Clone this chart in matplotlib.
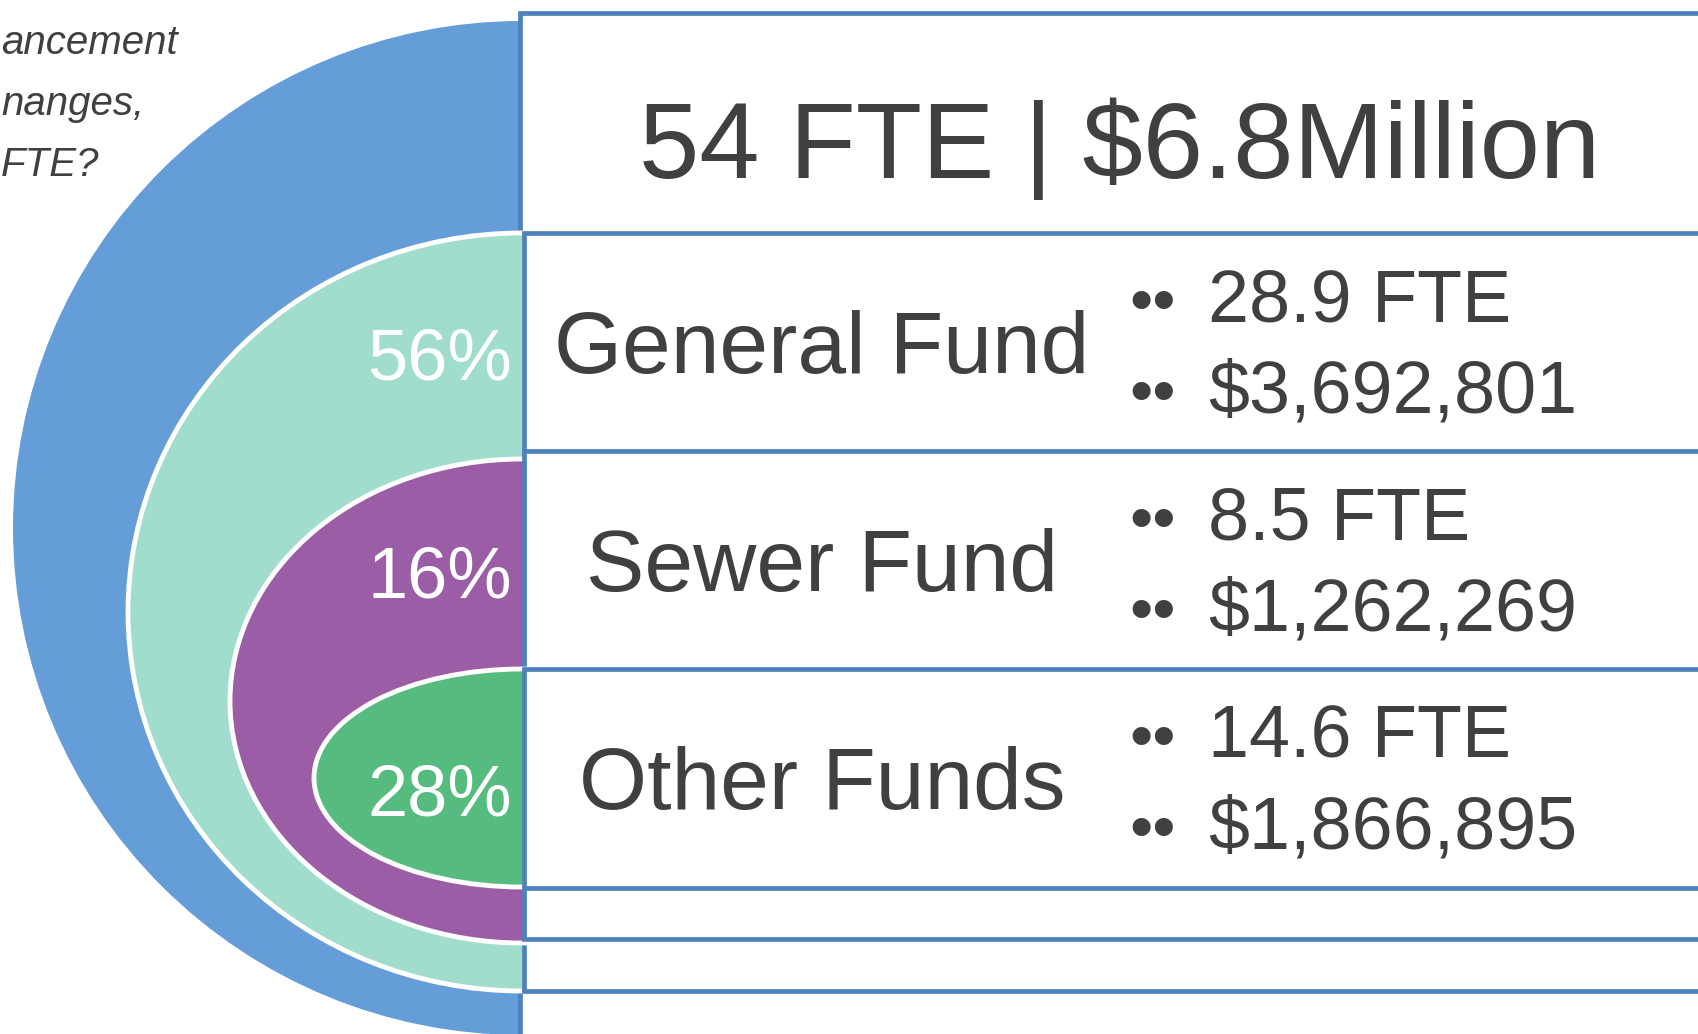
import matplotlib.pyplot as plt
from matplotlib import patches

plt.rcParams['font.family'] = ['Liberation Sans', 'DejaVu Sans']

# data
funds = ['General Fund', 'Sewer Fund', 'Other Funds']
shares = [56, 16, 28]
fte = [28.9, 8.5, 14.6]
dollars = [3692801, 1262269, 1866895]
total_fte = 54
total_million = 6.8
side_note = ['ancement', 'nanges,', 'FTE?']

# styles
ring_colors = ['#659DD9', '#A0DDCC', '#9B5DA5', '#55BB7E']
edge_blue = '#4F81BD'
text_gray = '#404040'

fig = plt.figure(figsize=(16.98, 10.34), dpi=100)
ax = fig.add_axes([0, 0, 1, 1])
ax.set_xlim(0, 1698)
ax.set_ylim(1034, 0)
ax.axis('off')

# nested half ellipses (center y, half width, half height) + boxes (top, bottom, left)
cx = 522
rings = [(528, 509, 507), (612, 394, 379), (701, 292, 242), (778, 208, 109)]
boxes = [(13, 1080, 520), (233, 991, 524), (451, 939, 524), (669, 888, 524)]

for i, ((cy, a, b), (top, bot, left)) in enumerate(zip(rings, boxes)):
    clip = patches.Rectangle((0, -50), cx, 1200, transform=ax.transData)
    ell = patches.Ellipse((cx, cy), 2 * a, 2 * b,
                          facecolor=ring_colors[i],
                          edgecolor='white' if i > 0 else ring_colors[i],
                          linewidth=3.5 if i > 0 else 0)
    ell.set_clip_path(clip)
    ax.add_patch(ell)
    ax.add_patch(patches.Rectangle((left, top), 1800 - left, bot - top,
                                   facecolor='white', edgecolor=edge_blue,
                                   linewidth=3.4))

# headline
ax.text(1120, 178, f'{total_fte} FTE | ${total_million}Million',
        fontsize=78, color=text_gray, ha='center', va='baseline')

# rows
row_tops = [233, 451, 669]
for top, name, pct, f, d in zip(row_tops, funds, shares, fte, dollars):
    ax.text(822, top + 140, name, fontsize=63, color=text_gray,
            ha='center', va='baseline')
    ax.text(512, top + 147, f'{pct}%', fontsize=52, color='white',
            ha='right', va='baseline')
    ax.text(1129, top + 89, '••', fontsize=48, color=text_gray,
            ha='left', va='baseline')
    ax.text(1208, top + 89, f'{f} FTE', fontsize=53, color=text_gray,
            ha='left', va='baseline')
    ax.text(1129, top + 180, '••', fontsize=48, color=text_gray,
            ha='left', va='baseline')
    ax.text(1208, top + 180, f'${d:,}', fontsize=53, color=text_gray,
            ha='left', va='baseline')

# italic note at top left (cut by the slide edge in the source)
for k, line in enumerate(side_note):
    ax.text(1, 54 + 61 * k, line, fontsize=29,
            style='italic', color=text_gray, ha='left', va='baseline')

fig.savefig('out.png', dpi=100)
